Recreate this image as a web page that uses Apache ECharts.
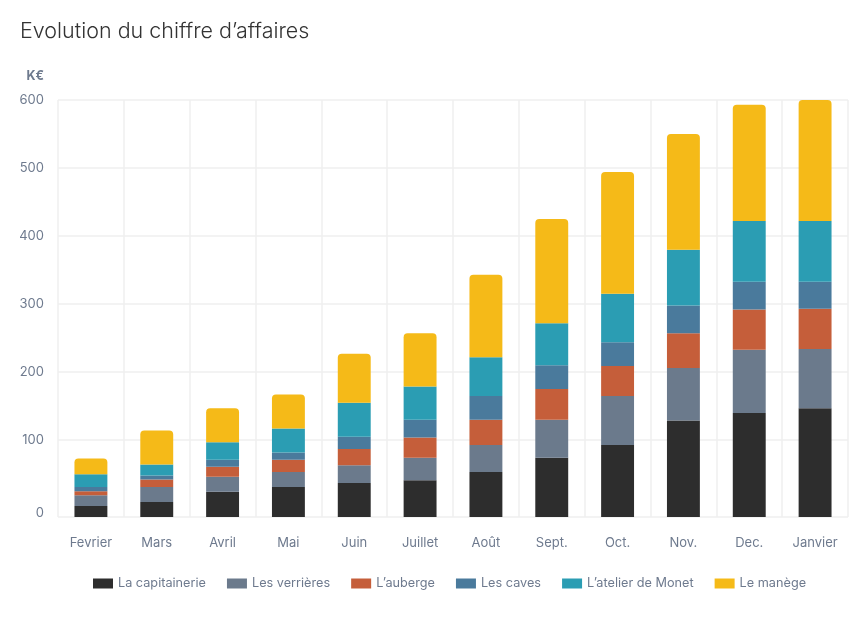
<html style="height: 100%">

<head>
    <meta charset="utf-8">
</head>

<body style="height: 100%; margin: 0; background: #fff">
    <div id="container" style="width: 861px; height: 625px"></div>

    <script type="text/javascript" src="https://cdn.jsdelivr.net/npm/echarts@6/dist/echarts.min.js"></script>

    <script type="text/javascript">
        var months = ['Fevrier', 'Mars', 'Avril', 'Mai', 'Juin', 'Juillet', 'Août', 'Sept.', 'Oct.', 'Nov.', 'Dec.', 'Janvier'];
        var yTicks = [0, 100, 200, 300, 400, 500, 600];

        // K€ per site
        var capitainerie = [3, 9, 24, 31, 37, 41, 53, 74, 93, 129, 140, 147];
        var verrieres = [16, 22, 22, 22, 26, 33, 40, 56, 72, 77, 93, 87];
        var auberge = [6, 11, 15, 18, 24, 30, 37, 45, 44, 51, 59, 59];
        var caves = [6, 6, 10, 11, 18, 26, 35, 35, 35, 41, 41, 40];
        var atelier = [19, 16, 26, 35, 50, 49, 57, 62, 71, 82, 89, 89];
        var manege = [23, 50, 50, 50, 72, 78, 121, 153, 179, 170, 171, 178];

        var chartDom = document.getElementById('container');
        var myChart = echarts.init(chartDom);
        var font = 'Inter, "Noto Sans", sans-serif';
        var grey = '#6e7a8e';

        function serie(name, data, color, last) {
            return {
                name: name,
                type: 'bar',
                stack: 'total',
                barWidth: '50%',
                data: data,
                itemStyle: {
                    color: color,
                    borderRadius: last ? [4, 4, 0, 0] : 0
                }
            };
        }

        var option = {
            backgroundColor: '#fff',
            animation: false,
            title: {
                text: 'Evolution du chiffre d’affaires',
                left: 15,
                top: 16,
                textStyle: { fontFamily: font, fontSize: 21.5, fontWeight: 300, color: '#333' }
            },
            grid: { left: 58, right: 13, top: 100, bottom: 108 },
            legend: {
                bottom: 30,
                left: 88,
                itemWidth: 20,
                itemHeight: 10,
                itemGap: 21,
                icon: 'rect',
                textStyle: { fontFamily: font, fontSize: 12.7, color: grey }
            },
            xAxis: {
                type: 'category',
                data: months,
                axisLine: { show: false },
                axisTick: { show: false },
                axisLabel: { margin: 20, fontFamily: font, fontSize: 13, color: grey },
                splitLine: { show: true, interval: 0, lineStyle: { color: '#efefef', width: 1.5 } }
            },
            yAxis: {
                type: 'value',
                min: -13,
                max: 600,
                startValue: -13,
                name: 'K€',
                nameLocation: 'end',
                nameGap: 17,
                nameTextStyle: { fontFamily: font, fontSize: 12.5, fontWeight: 'bold', color: grey, align: 'right', padding: [0, 14, 0, 0] },
                axisLine: { show: false },
                axisTick: { show: false, customValues: [-13].concat(yTicks.slice(1)) },
                axisLabel: {
                    customValues: yTicks,
                    margin: 14,
                    fontFamily: font,
                    fontSize: 13,
                    color: grey,
                    formatter: function (v) { return v === 0 ? '{zero|0}' : String(v); },
                    rich: { zero: { fontFamily: font, fontSize: 13, color: grey, padding: [10, 0, 0, 0] } }
                },
                splitLine: { show: true, lineStyle: { color: '#efefef', width: 1.5 } }
            },
            series: [
                serie('La capitainerie', capitainerie, '#2d2d2d'),
                serie('Les verrières', verrieres, '#6b7a8c'),
                serie('L’auberge', auberge, '#c55e3a'),
                serie('Les caves', caves, '#4a7a9c'),
                serie('L’atelier de Monet', atelier, '#2b9db3'),
                serie('Le manège', manege, '#f5ba18', true)
            ]
        };

        option && myChart.setOption(option);
    </script>
</body>

</html>
